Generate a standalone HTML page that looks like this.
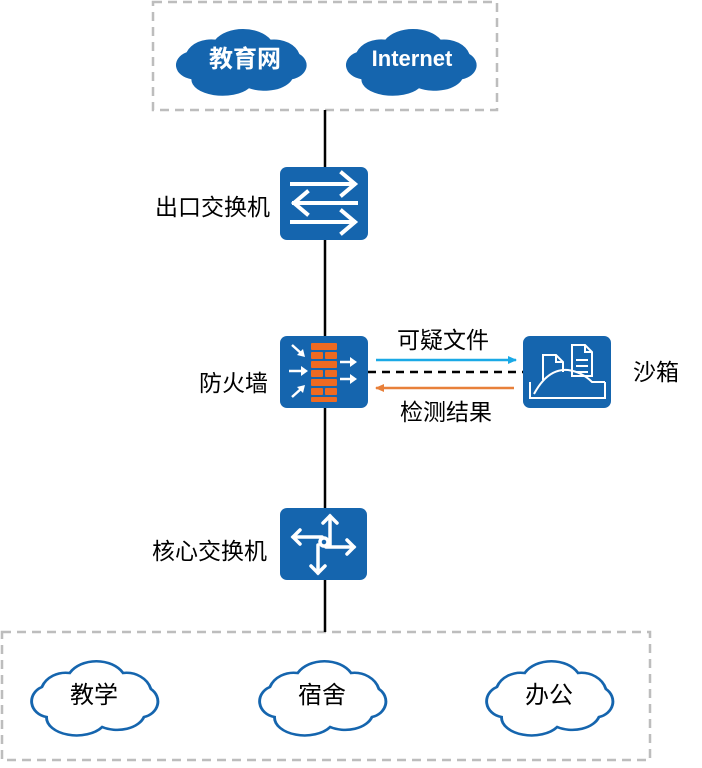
<!DOCTYPE html>
<html><head><meta charset="utf-8"><style>
body{margin:0;background:#fff;width:702px;height:763px;overflow:hidden}
svg text{font-family:"Liberation Sans","Noto Sans CJK SC",sans-serif}
</style></head><body>
<svg width="702" height="763" viewBox="0 0 702 763" xmlns="http://www.w3.org/2000/svg">
<defs>
<path id="cl" d="M22 58 A16 16 0 0 1 18 28 A22 22 0 0 1 42 14 A26 22 0 0 1 88 14 A22 22 0 0 1 112 30 A16 16 0 0 1 106 58 A24 18 0 0 1 70 68 A26 18 0 0 1 22 58 Z"/>
<marker id="ab" markerWidth="10" markerHeight="10" refX="8" refY="4" orient="auto" markerUnits="userSpaceOnUse"><path d="M0 0 L9 4 L0 8 Z" fill="#1aa9e6"/></marker>
<marker id="ao" markerWidth="10" markerHeight="10" refX="8" refY="4" orient="auto" markerUnits="userSpaceOnUse"><path d="M0 0 L9 4 L0 8 Z" fill="#e8803a"/></marker>
</defs>
<rect x="153" y="2" width="344" height="108" fill="none" stroke="#bdbdbd" stroke-width="2.5" stroke-dasharray="9,6"/>
<rect x="2" y="632" width="648" height="128" fill="none" stroke="#bdbdbd" stroke-width="2.5" stroke-dasharray="9,6"/>
<line x1="325" y1="110" x2="325" y2="632" stroke="#000" stroke-width="2.5"/>
<!-- top clouds -->
<use href="#cl" transform="translate(165,27) scale(1.2,0.9)" fill="#1565ae"/>
<use href="#cl" transform="translate(335,27) scale(1.2,0.9)" fill="#1565ae"/>
<text x="245" y="67" font-size="24" font-weight="bold" fill="#fff" text-anchor="middle">教育网</text>
<text x="412" y="66" font-size="22" font-weight="bold" fill="#fff" text-anchor="middle">Internet</text>
<!-- exit switch -->
<rect x="280" y="167" width="88" height="73" rx="7" fill="#1565ae"/>
<g stroke="#fff" stroke-width="4" fill="none" stroke-linecap="square">
<line x1="292" y1="184" x2="354" y2="184"/><path d="M342 173 L355 184 L342 195"/>
<line x1="294" y1="203" x2="356" y2="203"/><path d="M307 192 L294 203 L307 214"/>
<line x1="292" y1="222" x2="354" y2="222"/><path d="M342 211 L355 222 L342 233"/>
</g>
<text x="270" y="215" font-size="23" text-anchor="end">出口交换机</text>
<!-- firewall -->
<rect x="280" y="336" width="88" height="72" rx="7" fill="#1565ae"/>
<g fill="#ee6a22">
<rect x="311" y="343" width="26" height="7" rx="1"/><rect x="311" y="352" width="12" height="7" rx="1"/><rect x="325" y="352" width="12" height="7" rx="1"/>
<rect x="311" y="361" width="26" height="7" rx="1"/><rect x="311" y="370" width="12" height="7" rx="1"/><rect x="325" y="370" width="12" height="7" rx="1"/>
<rect x="311" y="379" width="26" height="7" rx="1"/><rect x="311" y="388" width="12" height="7" rx="1"/><rect x="325" y="388" width="12" height="7" rx="1"/>
<rect x="311" y="397" width="26" height="5" rx="1"/>
</g>
<g stroke="#fff" stroke-width="2.5" fill="#fff">
<line x1="292" y1="345" x2="302" y2="354"/><line x1="289" y1="371" x2="303" y2="371"/><line x1="292" y1="397" x2="302" y2="388"/>
<line x1="340" y1="362" x2="352" y2="362"/><line x1="340" y1="379" x2="352" y2="379"/>
</g>
<g fill="#fff"><path d="M305 357 L297 355 L303 349Z"/><path d="M308 371 L301 366 L301 376Z"/><path d="M305 385 L297 387 L303 393Z"/><path d="M357 362 L350 357 L350 367Z"/><path d="M357 379 L350 374 L350 384Z"/></g>
<text x="268" y="391" font-size="23" text-anchor="end">防火墙</text>
<!-- arrows -->
<line x1="376" y1="360" x2="516" y2="360" stroke="#1aa9e6" stroke-width="2.5" marker-end="url(#ab)"/>
<line x1="368" y1="372" x2="523" y2="372" stroke="#000" stroke-width="2.5" stroke-dasharray="8,6"/>
<line x1="514" y1="388" x2="376" y2="388" stroke="#e8803a" stroke-width="2.5" marker-end="url(#ao)"/>
<text x="443" y="348" font-size="23" text-anchor="middle">可疑文件</text>
<text x="446" y="420" font-size="23" text-anchor="middle">检测结果</text>
<!-- sandbox -->
<rect x="523" y="336" width="88" height="72" rx="7" fill="#1565ae"/>
<g stroke="#fff" stroke-width="2" fill="none">
<path d="M543 380 L543 355 L556 355 L563 362 L563 372"/><path d="M556 355 L556 362 L563 362"/>
<path d="M572 376 L572 345 L585 345 L592 352 L592 376 Z"/><path d="M585 345 L585 352 L592 352"/>
<line x1="576" y1="360" x2="588" y2="360"/><line x1="576" y1="366" x2="588" y2="366"/><line x1="576" y1="372" x2="588" y2="372"/>
<path d="M530 382 L530 398 L605 398 L605 382"/>
<path d="M534 394 Q548 368 568 370 Q582 372 592 382 L605 382"/>
</g>
<text x="633" y="380" font-size="23">沙箱</text>
<!-- core switch -->
<rect x="280" y="508" width="87" height="72" rx="7" fill="#1565ae"/>
<g stroke="#fff" stroke-width="3.5" fill="none" stroke-linecap="round">
<line x1="330" y1="516" x2="330" y2="545"/><path d="M323 523 L330 516 L337 523"/>
<line x1="293" y1="537" x2="322" y2="537"/><path d="M300 530 L293 537 L300 544"/>
<line x1="326" y1="547" x2="354" y2="547"/><path d="M347 540 L354 547 L347 554"/>
<line x1="318" y1="545" x2="318" y2="573"/><path d="M311 566 L318 573 L325 566"/>
<circle cx="324" cy="542" r="4"/>
</g>
<text x="267" y="559" font-size="23" text-anchor="end">核心交换机</text>
<!-- bottom clouds -->
<use href="#cl" transform="translate(21,659) scale(1.16,1)" fill="#fff" stroke="#1565ae" stroke-width="2.5"/>
<use href="#cl" transform="translate(249,659) scale(1.16,1)" fill="#fff" stroke="#1565ae" stroke-width="2.5"/>
<use href="#cl" transform="translate(476,659) scale(1.16,1)" fill="#fff" stroke="#1565ae" stroke-width="2.5"/>
<text x="94" y="703" font-size="24" text-anchor="middle">教学</text>
<text x="322" y="703" font-size="24" text-anchor="middle">宿舍</text>
<text x="549" y="703" font-size="24" text-anchor="middle">办公</text>
</svg>
</body></html>
